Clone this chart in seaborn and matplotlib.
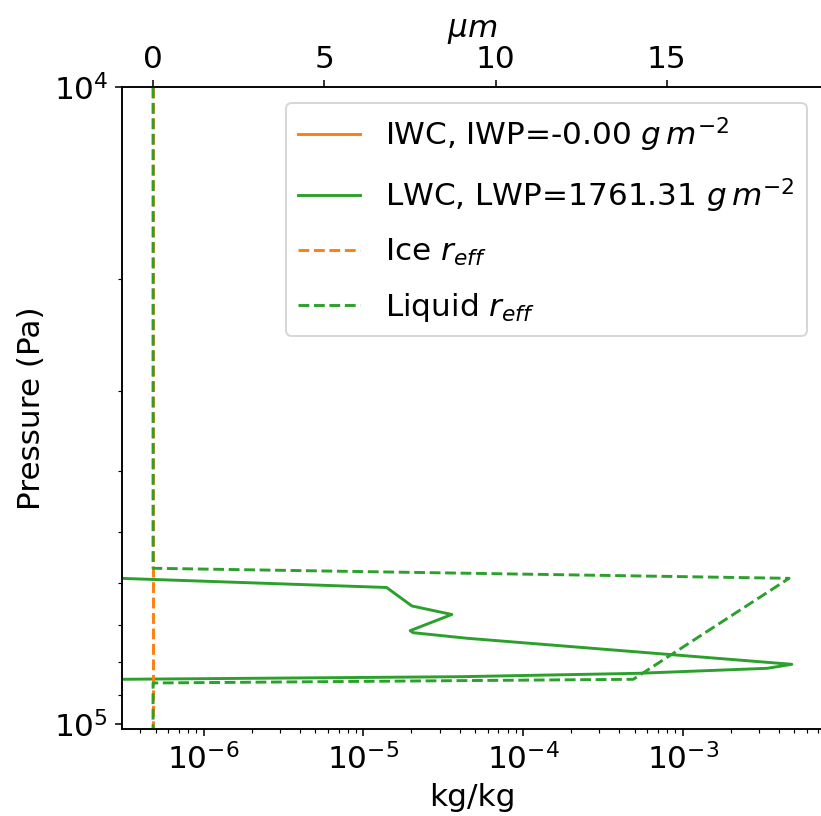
import numpy as np
import pandas as pd
import matplotlib
matplotlib.use("Agg")
import matplotlib.pyplot as plt
import seaborn as sns

# ---- data ----
# Liquid water content profile (kg/kg) against pressure (Pa)
lwc_pressure = [5.909e4, 6.108e4, 6.531e4, 6.735e4, 7.141e4, 7.194e4, 7.340e4,
                8.066e4, 8.184e4, 8.334e4, 8.436e4, 8.516e4]
lwc_values = [3.0e-7, 1.397e-5, 2.014e-5, 3.581e-5, 1.964e-5, 2.050e-5, 4.446e-5,
              4.82e-3, 3.37e-3, 5.18e-4, 4.04e-5, 3.0e-7]

# Ice water content (essentially zero everywhere -> off the log axis)
iwc_pressure = [1.0e4, 5.698e4, 8.630e4, 1.0205e5]
iwc_values = [1e-12, 1e-12, 1e-12, 1e-12]

# Effective radii (micrometres)
liq_reff_pressure = [1.0e4, 5.698e4, 5.909e4, 8.516e4, 8.630e4, 1.0205e5]
liq_reff_values = [0.0, 0.0, 18.57, 14.02, 0.0, 0.0]
ice_reff_pressure = [1.0e4, 5.698e4, 8.630e4, 1.0205e5]
ice_reff_values = [0.0, 0.0, 0.0, 0.0]

iwp_label = r"IWC, IWP=-0.00 $g\,m^{-2}$"
lwp_label = r"LWC, LWP=1761.31 $g\,m^{-2}$"
ice_reff_label = r"Ice $r_{eff}$"
liq_reff_label = r"Liquid $r_{eff}$"

x_ticks_top = [0, 5, 10, 15]

# ---- figure ----
plt.rcParams["font.size"] = 16
dpi = 140
fig = plt.figure(figsize=(822 / dpi, 816 / dpi), dpi=dpi)
ax = fig.add_axes([0.1481, 0.10625, 1.0012 - 0.1481, 0.8928 - 0.10625])

ax.set_xscale("log")
ax.set_yscale("log")

sns.lineplot(x=iwc_values, y=iwc_pressure, sort=False, estimator=None, ax=ax,
             color="C1", label=iwp_label)
sns.lineplot(x=lwc_values, y=lwc_pressure, sort=False, estimator=None, ax=ax,
             color="C2", label=lwp_label)

ax.set_xlim(3.07e-7, 7.55e-3)
ax.set_ylim(1.0205e5, 1.0e4)
ax.set_xlabel("kg/kg")
ax.set_ylabel("Pressure (Pa)")

ax2 = ax.twiny()
sns.lineplot(x=ice_reff_values, y=ice_reff_pressure, sort=False, estimator=None,
             ax=ax2, color="C1", linestyle="--", label=ice_reff_label)
sns.lineplot(x=liq_reff_values, y=liq_reff_pressure, sort=False, estimator=None,
             ax=ax2, color="C2", linestyle="--", label=liq_reff_label)
ax2.set_xlim(-0.914, 19.56)
ax2.set_xticks(x_ticks_top)
ax2.set_xlabel(r"$\mu m$")
ax2.set_yscale("log")
ax2.set_ylim(1.0205e5, 1.0e4)

h1, l1 = ax.get_legend_handles_labels()
h2, l2 = ax2.get_legend_handles_labels()
if ax.get_legend() is not None:
    ax.get_legend().remove()
if ax2.get_legend() is not None:
    ax2.get_legend().remove()
ax2.legend(h1 + h2, l1 + l2, loc="upper right", labelspacing=0.72)

fig.savefig("out.png", dpi=dpi)
